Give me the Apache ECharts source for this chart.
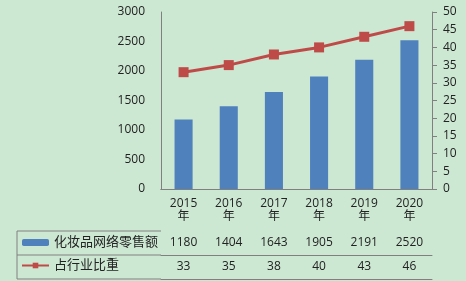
<!DOCTYPE html>
<html><head><meta charset="utf-8">
<script src="https://cdn.jsdelivr.net/npm/echarts@6/dist/echarts.min.js"></script>
<style>html,body{margin:0;padding:0;background:#cde8d2}#c{width:466px;height:281px}</style>
</head><body><div id="c"></div>
<script>
const years = ['2015','2016','2017','2018','2019','2020'];
const sales = [1180, 1404, 1643, 1905, 2191, 2520];
const share = [33, 35, 38, 40, 43, 46];
const salesName = '化妆品网络零售额';
const shareName = '占行业比重';
const leftTicks = {min: 0, max: 3000, interval: 500};
const rightTicks = {min: 0, max: 50, interval: 5};

const gray = '#808080';
const txt = '#222';
const font = '"Open Sans", "Noto Sans CJK SC", sans-serif';
const chart = echarts.init(document.getElementById('c'));
const catBase = {type: 'category', gridIndex: 0, position: 'bottom', boundaryGap: true};
chart.setOption({
  backgroundColor: '#cde8d2',
  animation: false,
  textStyle: {fontFamily: font},
  grid: {left: 161, right: 34, top: 12, bottom: 92, containLabel: false},
  legend: {
    orient: 'vertical', left: 21, top: 236, padding: 0, itemWidth: 27, itemHeight: 7, itemGap: 10,
    height: 45, width: 140,
    textStyle: {fontSize: 13, color: txt, fontFamily: font},
    data: [salesName, shareName]
  },
  xAxis: [
    Object.assign({}, catBase, {
      data: years,
      axisLine: {lineStyle: {color: gray}},
      axisTick: {length: 42, lineStyle: {color: gray}},
      axisLabel: {formatter: v => v + '\n年', fontSize: 12, color: txt, lineHeight: 13, margin: 8}
    }),
    Object.assign({}, catBase, {
      data: sales.map(String), offset: 42,
      axisLine: {lineStyle: {color: gray}},
      axisTick: {length: 24, lineStyle: {color: gray}},
      axisLabel: {fontSize: 12, color: txt, margin: 6}
    }),
    Object.assign({}, catBase, {
      data: share.map(String), offset: 66,
      axisLine: {lineStyle: {color: gray}},
      axisTick: {length: 24, lineStyle: {color: gray}},
      axisLabel: {fontSize: 12, color: txt, margin: 6}
    }),
    Object.assign({}, catBase, {
      data: years, offset: 90,
      axisLine: {lineStyle: {color: gray}},
      axisTick: {show: false}, axisLabel: {show: false}
    })
  ],
  yAxis: [
    Object.assign({type: 'value', position: 'left'}, leftTicks, {
      axisLine: {show: true, lineStyle: {color: gray}},
      axisTick: {show: false}, splitLine: {show: false},
      axisLabel: {fontSize: 12, color: txt, margin: 16, formatter: v => String(v)}
    }),
    Object.assign({type: 'value', position: 'right'}, rightTicks, {
      axisLine: {show: true, lineStyle: {color: gray}},
      axisTick: {show: true, length: 5, lineStyle: {color: gray}}, splitLine: {show: false},
      axisLabel: {fontSize: 12, color: txt, margin: 11, formatter: v => String(v)}
    })
  ],
  graphic: [
    {type: 'line', shape: {x1: 17, y1: 231, x2: 161, y2: 231}, style: {stroke: gray, lineWidth: 1}},
    {type: 'line', shape: {x1: 17, y1: 255, x2: 161, y2: 255}, style: {stroke: gray, lineWidth: 1}},
    {type: 'line', shape: {x1: 17, y1: 279, x2: 161, y2: 279}, style: {stroke: gray, lineWidth: 1}},
    {type: 'line', shape: {x1: 17, y1: 231, x2: 17, y2: 279}, style: {stroke: gray, lineWidth: 1}}
  ],
  series: [
    {name: salesName, type: 'bar', xAxisIndex: 0, yAxisIndex: 0, data: sales, barWidth: '40%',
     itemStyle: {color: '#4f81bd'}},
    {name: shareName, type: 'line', xAxisIndex: 0, yAxisIndex: 1, data: share,
     symbol: 'rect', symbolSize: 10, lineStyle: {color: '#be4b48', width: 3},
     itemStyle: {color: '#be4b48'}}
  ]
});
</script></body></html>
